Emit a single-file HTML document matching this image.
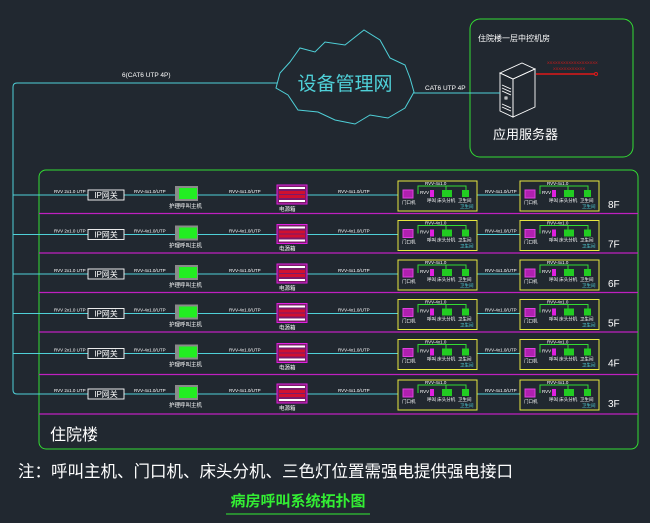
<!DOCTYPE html>
<html><head><meta charset="utf-8"><style>
html,body{margin:0;padding:0;background:#212830;}
svg{display:block;}
text{font-family:"Liberation Sans","Noto Sans CJK SC",sans-serif;}
.t{fill:#fff;font-size:4.5px;}
.s{fill:#fff;font-size:5.5px;}
.f{fill:#fff;font-size:10px;}
</style></head><body>
<svg width="650" height="523" viewBox="0 0 650 523" xmlns="http://www.w3.org/2000/svg">
<rect width="650" height="523" fill="#212830"/>
<rect x="470" y="19" width="163" height="138" rx="10" fill="none" stroke="#33dd33" stroke-width="1"/>
<text x="478" y="41" fill="#fff" style="font-size:8px">住院楼一层中控机房</text>
<g fill="none" stroke="#fff" stroke-width="0.9">
<polygon points="500,73 513,79 513,117 500,111"/>
<polygon points="513,79 535,69 535,107 513,117"/>
<polygon points="500,73 522,63 535,69 513,79"/>
<line x1="502" y1="85" x2="511" y2="89"/><line x1="502" y1="88" x2="511" y2="92"/>
<line x1="502" y1="91" x2="511" y2="95"/><line x1="502" y1="104" x2="511" y2="108"/>
<line x1="502" y1="107" x2="511" y2="111"/><rect x="505" y="97" width="2" height="2"/>
</g>
<line x1="536" y1="74" x2="595" y2="74" stroke="#e01818" stroke-width="1.5"/>
<circle cx="596" cy="74" r="1.5" fill="none" stroke="#e01818"/>
<text x="547" y="64" fill="#e01818" style="font-size:4px">XXXXXXXXXXXXXXXXXXX</text>
<text x="553" y="70" fill="#e01818" style="font-size:4px">XXXXXXXXXXXX</text>
<text x="493" y="139" fill="#fff" style="font-size:13px">应用服务器</text>
<path d="M290,62 L300,48 L315,52 L325,42 L345,45 L364,30 L380,40 L390,58 L405,65 L410,78 L414,92 L405,108 L388,118 L370,115 L355,124 L335,120 L318,112 L298,110 L288,95 L276,88 L280,73 Z" fill="none" stroke="#4fd0d8" stroke-width="1"/>
<text x="345" y="90" fill="#4fd0d8" text-anchor="middle" style="font-size:19px">设备管理网</text>
<line x1="414" y1="93" x2="500" y2="93" stroke="#4fd0d8" stroke-width="1"/>
<text x="425" y="90" fill="#fff" style="font-size:6.5px">CAT6 UTP 4P</text>
<path d="M277,83 L17,83 Q13,83 13,87 L13,390 Q13,394 17,394" fill="none" stroke="#4fd0d8" stroke-width="1"/>
<text x="122" y="77" fill="#fff" style="font-size:6.5px">6(CAT6 UTP 4P)</text>
<rect x="39" y="170" width="599" height="279" rx="7" fill="none" stroke="#33dd33" stroke-width="1"/>
<text x="50" y="440" fill="#fff" style="font-size:16px">住院楼</text>

<g transform="translate(0,195)">
<line x1="13" y1="0" x2="398" y2="0" stroke="#4fd0d8"/><line x1="477" y1="0" x2="520" y2="0" stroke="#4fd0d8"/>
<line x1="39" y1="18.5" x2="638" y2="18.5" stroke="#c020c0" stroke-width="1.2"/>
<text x="54" y="-2" class="t">RVV 2x1.0 UTP</text>
<rect x="88" y="-5" width="36" height="10" fill="#212830" stroke="#fff" stroke-width="0.9"/><text x="106" y="3" fill="#fff" text-anchor="middle" style="font-size:8px">IP网关</text>
<text x="134" y="-2" class="t">RVV-4x1.0/UTP</text>
<rect x="175" y="-9" width="23" height="15" fill="#8a8a8a"/><rect x="179" y="-7" width="18" height="11" fill="#22ee22"/>
<text x="169" y="13" class="s">护理呼叫主机</text>
<text x="229" y="-2" class="t">RVV-4x1.0/UTP</text>
<rect x="277" y="-10" width="30" height="19" fill="#7a1a6a" stroke="#e020e0"/><rect x="279" y="-8" width="26" height="2" fill="#fff"/><rect x="279" y="-4" width="26" height="3" fill="#d01030"/><rect x="279" y="0" width="26" height="3" fill="#d01030"/><rect x="279" y="5" width="26" height="2" fill="#fff"/>
<text x="279" y="16" class="s">电源箱</text>
<text x="338" y="-2" class="t">RVV-4x1.0/UTP</text>
<text x="485" y="-2" class="t">RVV-4x1.0/UTP</text>
<rect x="398" y="-14" width="79" height="30" fill="none" stroke="#e8e840"/>
<path d="M418,-1 L418,-9 L466,-9 L466,-4 M446,-9 L446,-4" fill="none" stroke="#33dd33"/>
<text x="425" y="-10" class="t">RVV-4x1.0</text>
<rect x="403" y="-5" width="10" height="8" fill="#b020b0" stroke="#e040e0"/><text x="402" y="9" class="t">门口机</text>
<rect x="430" y="-5" width="4" height="7" fill="#e020e0"/><text x="420" y="-1" class="t">RVV</text>
<rect x="442" y="-5" width="10" height="7" fill="#22cc22"/><rect x="462" y="-5" width="7" height="7" fill="#22cc22"/>
<text x="427" y="7" class="t">呼叫 床头分机</text><text x="458" y="7" class="t">卫生间</text>
<text x="460" y="13" fill="#4fd0d8" style="font-size:4.5px">卫生间</text>
<rect x="520" y="-14" width="79" height="30" fill="none" stroke="#e8e840"/>
<path d="M540,-1 L540,-9 L588,-9 L588,-4 M568,-9 L568,-4" fill="none" stroke="#33dd33"/>
<text x="547" y="-10" class="t">RVV-4x1.0</text>
<rect x="525" y="-5" width="10" height="8" fill="#b020b0" stroke="#e040e0"/><text x="524" y="9" class="t">门口机</text>
<rect x="552" y="-5" width="4" height="7" fill="#e020e0"/><text x="542" y="-1" class="t">RVV</text>
<rect x="564" y="-5" width="10" height="7" fill="#22cc22"/><rect x="584" y="-5" width="7" height="7" fill="#22cc22"/>
<text x="549" y="7" class="t">呼叫 床头分机</text><text x="580" y="7" class="t">卫生间</text>
<text x="582" y="13" fill="#4fd0d8" style="font-size:4.5px">卫生间</text>
<text x="608" y="13" class="f">8F</text>
</g>

<g transform="translate(0,234.5)">
<line x1="13" y1="0" x2="398" y2="0" stroke="#4fd0d8"/><line x1="477" y1="0" x2="520" y2="0" stroke="#4fd0d8"/>
<line x1="39" y1="18.5" x2="638" y2="18.5" stroke="#c020c0" stroke-width="1.2"/>
<text x="54" y="-2" class="t">RVV 2x1.0 UTP</text>
<rect x="88" y="-5" width="36" height="10" fill="#212830" stroke="#fff" stroke-width="0.9"/><text x="106" y="3" fill="#fff" text-anchor="middle" style="font-size:8px">IP网关</text>
<text x="134" y="-2" class="t">RVV-4x1.0/UTP</text>
<rect x="175" y="-9" width="23" height="15" fill="#8a8a8a"/><rect x="179" y="-7" width="18" height="11" fill="#22ee22"/>
<text x="169" y="13" class="s">护理呼叫主机</text>
<text x="229" y="-2" class="t">RVV-4x1.0/UTP</text>
<rect x="277" y="-10" width="30" height="19" fill="#7a1a6a" stroke="#e020e0"/><rect x="279" y="-8" width="26" height="2" fill="#fff"/><rect x="279" y="-4" width="26" height="3" fill="#d01030"/><rect x="279" y="0" width="26" height="3" fill="#d01030"/><rect x="279" y="5" width="26" height="2" fill="#fff"/>
<text x="279" y="16" class="s">电源箱</text>
<text x="338" y="-2" class="t">RVV-4x1.0/UTP</text>
<text x="485" y="-2" class="t">RVV-4x1.0/UTP</text>
<rect x="398" y="-14" width="79" height="30" fill="none" stroke="#e8e840"/>
<path d="M418,-1 L418,-9 L466,-9 L466,-4 M446,-9 L446,-4" fill="none" stroke="#33dd33"/>
<text x="425" y="-10" class="t">RVV-4x1.0</text>
<rect x="403" y="-5" width="10" height="8" fill="#b020b0" stroke="#e040e0"/><text x="402" y="9" class="t">门口机</text>
<rect x="430" y="-5" width="4" height="7" fill="#e020e0"/><text x="420" y="-1" class="t">RVV</text>
<rect x="442" y="-5" width="10" height="7" fill="#22cc22"/><rect x="462" y="-5" width="7" height="7" fill="#22cc22"/>
<text x="427" y="7" class="t">呼叫 床头分机</text><text x="458" y="7" class="t">卫生间</text>
<text x="460" y="13" fill="#4fd0d8" style="font-size:4.5px">卫生间</text>
<rect x="520" y="-14" width="79" height="30" fill="none" stroke="#e8e840"/>
<path d="M540,-1 L540,-9 L588,-9 L588,-4 M568,-9 L568,-4" fill="none" stroke="#33dd33"/>
<text x="547" y="-10" class="t">RVV-4x1.0</text>
<rect x="525" y="-5" width="10" height="8" fill="#b020b0" stroke="#e040e0"/><text x="524" y="9" class="t">门口机</text>
<rect x="552" y="-5" width="4" height="7" fill="#e020e0"/><text x="542" y="-1" class="t">RVV</text>
<rect x="564" y="-5" width="10" height="7" fill="#22cc22"/><rect x="584" y="-5" width="7" height="7" fill="#22cc22"/>
<text x="549" y="7" class="t">呼叫 床头分机</text><text x="580" y="7" class="t">卫生间</text>
<text x="582" y="13" fill="#4fd0d8" style="font-size:4.5px">卫生间</text>
<text x="608" y="13" class="f">7F</text>
</g>

<g transform="translate(0,274)">
<line x1="13" y1="0" x2="398" y2="0" stroke="#4fd0d8"/><line x1="477" y1="0" x2="520" y2="0" stroke="#4fd0d8"/>
<line x1="39" y1="18.5" x2="638" y2="18.5" stroke="#c020c0" stroke-width="1.2"/>
<text x="54" y="-2" class="t">RVV 2x1.0 UTP</text>
<rect x="88" y="-5" width="36" height="10" fill="#212830" stroke="#fff" stroke-width="0.9"/><text x="106" y="3" fill="#fff" text-anchor="middle" style="font-size:8px">IP网关</text>
<text x="134" y="-2" class="t">RVV-4x1.0/UTP</text>
<rect x="175" y="-9" width="23" height="15" fill="#8a8a8a"/><rect x="179" y="-7" width="18" height="11" fill="#22ee22"/>
<text x="169" y="13" class="s">护理呼叫主机</text>
<text x="229" y="-2" class="t">RVV-4x1.0/UTP</text>
<rect x="277" y="-10" width="30" height="19" fill="#7a1a6a" stroke="#e020e0"/><rect x="279" y="-8" width="26" height="2" fill="#fff"/><rect x="279" y="-4" width="26" height="3" fill="#d01030"/><rect x="279" y="0" width="26" height="3" fill="#d01030"/><rect x="279" y="5" width="26" height="2" fill="#fff"/>
<text x="279" y="16" class="s">电源箱</text>
<text x="338" y="-2" class="t">RVV-4x1.0/UTP</text>
<text x="485" y="-2" class="t">RVV-4x1.0/UTP</text>
<rect x="398" y="-14" width="79" height="30" fill="none" stroke="#e8e840"/>
<path d="M418,-1 L418,-9 L466,-9 L466,-4 M446,-9 L446,-4" fill="none" stroke="#33dd33"/>
<text x="425" y="-10" class="t">RVV-4x1.0</text>
<rect x="403" y="-5" width="10" height="8" fill="#b020b0" stroke="#e040e0"/><text x="402" y="9" class="t">门口机</text>
<rect x="430" y="-5" width="4" height="7" fill="#e020e0"/><text x="420" y="-1" class="t">RVV</text>
<rect x="442" y="-5" width="10" height="7" fill="#22cc22"/><rect x="462" y="-5" width="7" height="7" fill="#22cc22"/>
<text x="427" y="7" class="t">呼叫 床头分机</text><text x="458" y="7" class="t">卫生间</text>
<text x="460" y="13" fill="#4fd0d8" style="font-size:4.5px">卫生间</text>
<rect x="520" y="-14" width="79" height="30" fill="none" stroke="#e8e840"/>
<path d="M540,-1 L540,-9 L588,-9 L588,-4 M568,-9 L568,-4" fill="none" stroke="#33dd33"/>
<text x="547" y="-10" class="t">RVV-4x1.0</text>
<rect x="525" y="-5" width="10" height="8" fill="#b020b0" stroke="#e040e0"/><text x="524" y="9" class="t">门口机</text>
<rect x="552" y="-5" width="4" height="7" fill="#e020e0"/><text x="542" y="-1" class="t">RVV</text>
<rect x="564" y="-5" width="10" height="7" fill="#22cc22"/><rect x="584" y="-5" width="7" height="7" fill="#22cc22"/>
<text x="549" y="7" class="t">呼叫 床头分机</text><text x="580" y="7" class="t">卫生间</text>
<text x="582" y="13" fill="#4fd0d8" style="font-size:4.5px">卫生间</text>
<text x="608" y="13" class="f">6F</text>
</g>

<g transform="translate(0,313.5)">
<line x1="13" y1="0" x2="398" y2="0" stroke="#4fd0d8"/><line x1="477" y1="0" x2="520" y2="0" stroke="#4fd0d8"/>
<line x1="39" y1="18.5" x2="638" y2="18.5" stroke="#c020c0" stroke-width="1.2"/>
<text x="54" y="-2" class="t">RVV 2x1.0 UTP</text>
<rect x="88" y="-5" width="36" height="10" fill="#212830" stroke="#fff" stroke-width="0.9"/><text x="106" y="3" fill="#fff" text-anchor="middle" style="font-size:8px">IP网关</text>
<text x="134" y="-2" class="t">RVV-4x1.0/UTP</text>
<rect x="175" y="-9" width="23" height="15" fill="#8a8a8a"/><rect x="179" y="-7" width="18" height="11" fill="#22ee22"/>
<text x="169" y="13" class="s">护理呼叫主机</text>
<text x="229" y="-2" class="t">RVV-4x1.0/UTP</text>
<rect x="277" y="-10" width="30" height="19" fill="#7a1a6a" stroke="#e020e0"/><rect x="279" y="-8" width="26" height="2" fill="#fff"/><rect x="279" y="-4" width="26" height="3" fill="#d01030"/><rect x="279" y="0" width="26" height="3" fill="#d01030"/><rect x="279" y="5" width="26" height="2" fill="#fff"/>
<text x="279" y="16" class="s">电源箱</text>
<text x="338" y="-2" class="t">RVV-4x1.0/UTP</text>
<text x="485" y="-2" class="t">RVV-4x1.0/UTP</text>
<rect x="398" y="-14" width="79" height="30" fill="none" stroke="#e8e840"/>
<path d="M418,-1 L418,-9 L466,-9 L466,-4 M446,-9 L446,-4" fill="none" stroke="#33dd33"/>
<text x="425" y="-10" class="t">RVV-4x1.0</text>
<rect x="403" y="-5" width="10" height="8" fill="#b020b0" stroke="#e040e0"/><text x="402" y="9" class="t">门口机</text>
<rect x="430" y="-5" width="4" height="7" fill="#e020e0"/><text x="420" y="-1" class="t">RVV</text>
<rect x="442" y="-5" width="10" height="7" fill="#22cc22"/><rect x="462" y="-5" width="7" height="7" fill="#22cc22"/>
<text x="427" y="7" class="t">呼叫 床头分机</text><text x="458" y="7" class="t">卫生间</text>
<text x="460" y="13" fill="#4fd0d8" style="font-size:4.5px">卫生间</text>
<rect x="520" y="-14" width="79" height="30" fill="none" stroke="#e8e840"/>
<path d="M540,-1 L540,-9 L588,-9 L588,-4 M568,-9 L568,-4" fill="none" stroke="#33dd33"/>
<text x="547" y="-10" class="t">RVV-4x1.0</text>
<rect x="525" y="-5" width="10" height="8" fill="#b020b0" stroke="#e040e0"/><text x="524" y="9" class="t">门口机</text>
<rect x="552" y="-5" width="4" height="7" fill="#e020e0"/><text x="542" y="-1" class="t">RVV</text>
<rect x="564" y="-5" width="10" height="7" fill="#22cc22"/><rect x="584" y="-5" width="7" height="7" fill="#22cc22"/>
<text x="549" y="7" class="t">呼叫 床头分机</text><text x="580" y="7" class="t">卫生间</text>
<text x="582" y="13" fill="#4fd0d8" style="font-size:4.5px">卫生间</text>
<text x="608" y="13" class="f">5F</text>
</g>

<g transform="translate(0,353.5)">
<line x1="13" y1="0" x2="398" y2="0" stroke="#4fd0d8"/><line x1="477" y1="0" x2="520" y2="0" stroke="#4fd0d8"/>
<line x1="39" y1="21" x2="638" y2="21" stroke="#c020c0" stroke-width="1.2"/>
<text x="54" y="-2" class="t">RVV 2x1.0 UTP</text>
<rect x="88" y="-5" width="36" height="10" fill="#212830" stroke="#fff" stroke-width="0.9"/><text x="106" y="3" fill="#fff" text-anchor="middle" style="font-size:8px">IP网关</text>
<text x="134" y="-2" class="t">RVV-4x1.0/UTP</text>
<rect x="175" y="-9" width="23" height="15" fill="#8a8a8a"/><rect x="179" y="-7" width="18" height="11" fill="#22ee22"/>
<text x="169" y="13" class="s">护理呼叫主机</text>
<text x="229" y="-2" class="t">RVV-4x1.0/UTP</text>
<rect x="277" y="-10" width="30" height="19" fill="#7a1a6a" stroke="#e020e0"/><rect x="279" y="-8" width="26" height="2" fill="#fff"/><rect x="279" y="-4" width="26" height="3" fill="#d01030"/><rect x="279" y="0" width="26" height="3" fill="#d01030"/><rect x="279" y="5" width="26" height="2" fill="#fff"/>
<text x="279" y="16" class="s">电源箱</text>
<text x="338" y="-2" class="t">RVV-4x1.0/UTP</text>
<text x="485" y="-2" class="t">RVV-4x1.0/UTP</text>
<rect x="398" y="-14" width="79" height="30" fill="none" stroke="#e8e840"/>
<path d="M418,-1 L418,-9 L466,-9 L466,-4 M446,-9 L446,-4" fill="none" stroke="#33dd33"/>
<text x="425" y="-10" class="t">RVV-4x1.0</text>
<rect x="403" y="-5" width="10" height="8" fill="#b020b0" stroke="#e040e0"/><text x="402" y="9" class="t">门口机</text>
<rect x="430" y="-5" width="4" height="7" fill="#e020e0"/><text x="420" y="-1" class="t">RVV</text>
<rect x="442" y="-5" width="10" height="7" fill="#22cc22"/><rect x="462" y="-5" width="7" height="7" fill="#22cc22"/>
<text x="427" y="7" class="t">呼叫 床头分机</text><text x="458" y="7" class="t">卫生间</text>
<text x="460" y="13" fill="#4fd0d8" style="font-size:4.5px">卫生间</text>
<rect x="520" y="-14" width="79" height="30" fill="none" stroke="#e8e840"/>
<path d="M540,-1 L540,-9 L588,-9 L588,-4 M568,-9 L568,-4" fill="none" stroke="#33dd33"/>
<text x="547" y="-10" class="t">RVV-4x1.0</text>
<rect x="525" y="-5" width="10" height="8" fill="#b020b0" stroke="#e040e0"/><text x="524" y="9" class="t">门口机</text>
<rect x="552" y="-5" width="4" height="7" fill="#e020e0"/><text x="542" y="-1" class="t">RVV</text>
<rect x="564" y="-5" width="10" height="7" fill="#22cc22"/><rect x="584" y="-5" width="7" height="7" fill="#22cc22"/>
<text x="549" y="7" class="t">呼叫 床头分机</text><text x="580" y="7" class="t">卫生间</text>
<text x="582" y="13" fill="#4fd0d8" style="font-size:4.5px">卫生间</text>
<text x="608" y="13" class="f">4F</text>
</g>

<g transform="translate(0,394)">
<line x1="17" y1="0" x2="398" y2="0" stroke="#4fd0d8"/><line x1="477" y1="0" x2="520" y2="0" stroke="#4fd0d8"/>
<line x1="39" y1="20" x2="638" y2="20" stroke="#c020c0" stroke-width="1.2"/>
<text x="54" y="-2" class="t">RVV 2x1.0 UTP</text>
<rect x="88" y="-5" width="36" height="10" fill="#212830" stroke="#fff" stroke-width="0.9"/><text x="106" y="3" fill="#fff" text-anchor="middle" style="font-size:8px">IP网关</text>
<text x="134" y="-2" class="t">RVV-4x1.0/UTP</text>
<rect x="175" y="-9" width="23" height="15" fill="#8a8a8a"/><rect x="179" y="-7" width="18" height="11" fill="#22ee22"/>
<text x="169" y="13" class="s">护理呼叫主机</text>
<text x="229" y="-2" class="t">RVV-4x1.0/UTP</text>
<rect x="277" y="-10" width="30" height="19" fill="#7a1a6a" stroke="#e020e0"/><rect x="279" y="-8" width="26" height="2" fill="#fff"/><rect x="279" y="-4" width="26" height="3" fill="#d01030"/><rect x="279" y="0" width="26" height="3" fill="#d01030"/><rect x="279" y="5" width="26" height="2" fill="#fff"/>
<text x="279" y="16" class="s">电源箱</text>
<text x="338" y="-2" class="t">RVV-4x1.0/UTP</text>
<text x="485" y="-2" class="t">RVV-4x1.0/UTP</text>
<rect x="398" y="-14" width="79" height="30" fill="none" stroke="#e8e840"/>
<path d="M418,-1 L418,-9 L466,-9 L466,-4 M446,-9 L446,-4" fill="none" stroke="#33dd33"/>
<text x="425" y="-10" class="t">RVV-4x1.0</text>
<rect x="403" y="-5" width="10" height="8" fill="#b020b0" stroke="#e040e0"/><text x="402" y="9" class="t">门口机</text>
<rect x="430" y="-5" width="4" height="7" fill="#e020e0"/><text x="420" y="-1" class="t">RVV</text>
<rect x="442" y="-5" width="10" height="7" fill="#22cc22"/><rect x="462" y="-5" width="7" height="7" fill="#22cc22"/>
<text x="427" y="7" class="t">呼叫 床头分机</text><text x="458" y="7" class="t">卫生间</text>
<text x="460" y="13" fill="#4fd0d8" style="font-size:4.5px">卫生间</text>
<rect x="520" y="-14" width="79" height="30" fill="none" stroke="#e8e840"/>
<path d="M540,-1 L540,-9 L588,-9 L588,-4 M568,-9 L568,-4" fill="none" stroke="#33dd33"/>
<text x="547" y="-10" class="t">RVV-4x1.0</text>
<rect x="525" y="-5" width="10" height="8" fill="#b020b0" stroke="#e040e0"/><text x="524" y="9" class="t">门口机</text>
<rect x="552" y="-5" width="4" height="7" fill="#e020e0"/><text x="542" y="-1" class="t">RVV</text>
<rect x="564" y="-5" width="10" height="7" fill="#22cc22"/><rect x="584" y="-5" width="7" height="7" fill="#22cc22"/>
<text x="549" y="7" class="t">呼叫 床头分机</text><text x="580" y="7" class="t">卫生间</text>
<text x="582" y="13" fill="#4fd0d8" style="font-size:4.5px">卫生间</text>
<text x="608" y="13" class="f">3F</text>
</g>

<text x="18" y="477" fill="#fff" style="font-size:16.5px">注：呼叫主机、门口机、床头分机、三色灯位置需强电提供强电接口</text>
<text x="298" y="506" fill="#33ee33" text-anchor="middle" style="font-size:15px;font-weight:bold">病房呼叫系统拓扑图</text>
<line x1="226" y1="514" x2="370" y2="514" stroke="#33ee33" stroke-width="1"/>
</svg>
</body></html>
